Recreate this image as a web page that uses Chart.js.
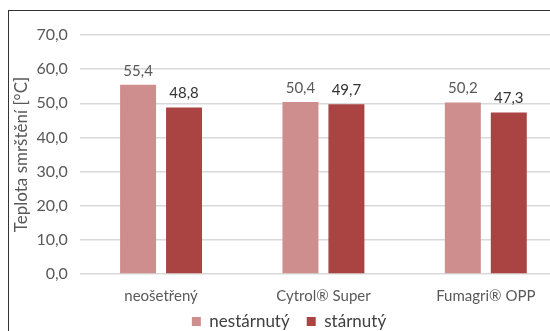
<!DOCTYPE html>
<html>
<head>
<meta charset="utf-8">
<script src="https://cdn.jsdelivr.net/npm/chart.js@4/dist/chart.umd.min.js"></script>
<style>
  html, body { margin: 0; padding: 0; background: #fff; overflow: hidden; width: 550px; height: 331px; }
  #frame { position: absolute; left: 8px; top: 10px; width: 600px; height: 340px; border: 1.5px solid #333; box-sizing: border-box; }
  #wrap { position: absolute; left: 0; top: 0; width: 600px; height: 362px; }
</style>
</head>
<body>
<div id="frame"></div>
<div id="wrap"><canvas id="c" width="600" height="362"></canvas></div>
<script>
const categories = ["neošetřený", "Cytrol® Super", "Fumagri® OPP"];
const seriesNames = ["nestárnutý", "stárnutý"];
const nestarnuty = [55.4, 50.4, 50.2];
const starnuty = [48.8, 49.7, 47.3];
const yTicks = [0, 10, 20, 30, 40, 50, 60, 70];
const yTitle = "Teplota smrštění [°C]";

const fmt = v => v.toFixed(1).replace('.', ',');
const FONT = "Lato, 'Open Sans', sans-serif";
const LEGEND_LIFT = 22;

const labelPlugin = {
  id: 'valLabels',
  afterLayout(chart) {
    const lg = chart.legend;
    if (lg) { lg.top -= LEGEND_LIFT; lg.bottom -= LEGEND_LIFT; }
  },
  afterDatasetsDraw(chart) {
    const ctx = chart.ctx;
    ctx.save();
    ctx.font = "15px " + FONT;
    ctx.textAlign = 'center';
    ctx.textBaseline = 'middle';
    chart.data.datasets.forEach((ds, i) => {
      const meta = chart.getDatasetMeta(i);
      ctx.fillStyle = i === 0 ? '#595959' : '#333333';
      meta.data.forEach((el, j) => {
        ctx.fillText(fmt(ds.data[j]), el.x, el.y - 14);
      });
    });
    ctx.restore();
  }
};

new Chart(document.getElementById('c'), {
  type: 'bar',
  data: {
    labels: categories,
    datasets: [
      { label: seriesNames[0], data: nestarnuty, backgroundColor: '#CE8E8E', categoryPercentage: 0.566, barPercentage: 0.783 },
      { label: seriesNames[1], data: starnuty, backgroundColor: '#A94442', categoryPercentage: 0.566, barPercentage: 0.783 }
    ]
  },
  options: {
    responsive: false,
    animation: false,
    devicePixelRatio: 1,
    layout: { padding: { left: 11, top: 35, right: 33, bottom: 0 } },
    plugins: {
      legend: {
        position: 'bottom',
        labels: { font: { size: 17, family: FONT }, color: '#404040', boxWidth: 9, boxHeight: 9, padding: 17 }
      },
      tooltip: { enabled: false }
    },
    scales: {
      x: {
        grid: { display: false, drawTicks: false },
        border: { display: false },
        ticks: { font: { size: 15, family: FONT }, color: '#595959', padding: 13 }
      },
      y: {
        min: 0, max: 70,
        afterBuildTicks: axis => { axis.ticks = yTicks.map(v => ({ value: v })); },
        afterFit: axis => { axis.width -= 7; },
        grid: { color: '#D9D9D9', lineWidth: 1.5, drawTicks: false },
        border: { display: false },
        ticks: { font: { size: 16, family: FONT }, color: '#595959', padding: 12, callback: v => fmt(v) },
        title: { display: true, text: yTitle, font: { size: 17, family: FONT }, color: '#595959', padding: { top: 0, bottom: 0 } }
      }
    }
  },
  plugins: [labelPlugin]
});
</script>
</body>
</html>
